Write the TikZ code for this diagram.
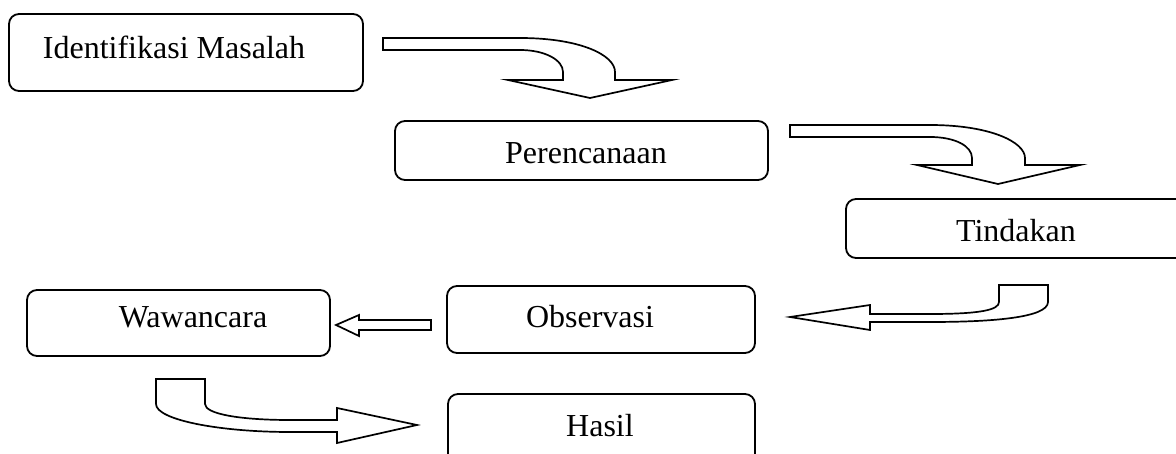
\documentclass[tikz,border=0pt]{standalone}
\usepackage{fontspec}
\setmainfont{Liberation Serif}

\tikzset{
  stage/.style={draw, rounded corners=10pt, line width=1.8pt},
  blockarrow/.style={draw, line width=1.7pt, line join=miter, fill=white}
}

\begin{document}
\begin{tikzpicture}[x=1pt, y=-1pt, font=\fontsize{32}{38}\selectfont]
  \useasboundingbox (0,0) rectangle (1176,454);

  % tahapan
  \node[stage, minimum width=354pt, minimum height=77pt,
    label={[xshift=-12pt, yshift=5.5pt]center:Identifikasi Masalah}]
    (identifikasi) at (186,52.5) {};
  \node[stage, minimum width=373pt, minimum height=59pt,
    label={[xshift=4.5pt, yshift=-3pt]center:Perencanaan}]
    (perencanaan) at (581.5,150.5) {};
  \node[stage, minimum width=344pt, minimum height=59pt,
    label={[xshift=-2pt, yshift=-2.5pt]center:Tindakan}]
    (tindakan) at (1018,228.5) {};
  \node[stage, minimum width=308pt, minimum height=67pt,
    label={[xshift=-11pt, yshift=2.5pt]center:Observasi}]
    (observasi) at (601,319.5) {};
  \node[stage, minimum width=303pt, minimum height=66pt,
    label={[xshift=14.5pt, yshift=5.5pt]center:Wawancara}]
    (wawancara) at (178.5,323) {};
  \node[stage, minimum width=307pt, minimum height=76pt,
    label={[xshift=-1.5pt, yshift=6pt]center:Hasil}]
    (hasil) at (601.5,432) {};

  % panah
  \draw[blockarrow] (383,38) -- (520,38)
    .. controls (580,38) and (615,55) .. (615,72) -- (615,80)
    -- (672,80) -- (590,98) -- (508,80) -- (563,80) -- (563,72)
    .. controls (563,60) and (545,50) .. (520,50) -- (383,50) -- cycle;
  \draw[blockarrow] (790,125) -- (930,125)
    .. controls (990,125) and (1025,142) .. (1025,158) -- (1025,165)
    -- (1080,165) -- (998,184) -- (917,165) -- (972,165) -- (972,158)
    .. controls (972,146) and (955,137) .. (930,137) -- (790,137) -- cycle;
  \draw[blockarrow] (999,285) -- (1048,285) -- (1048,302)
    .. controls (1048,318) and (990,322) .. (930,322) -- (870,322)
    -- (870,330) -- (790,317) -- (870,305) -- (870,314) -- (930,314)
    .. controls (980,314) and (999,310) .. (999,302) -- cycle;
  \draw[blockarrow] (431,320) -- (359,320) -- (359,315) -- (336,325)
    -- (359,336) -- (359,330) -- (431,330) -- cycle;
  \draw[blockarrow] (156,379) -- (205,379) -- (205,404)
    .. controls (205,414) and (240,420) .. (290,420) -- (337,420)
    -- (337,408) -- (417,425) -- (337,443) -- (337,432) -- (290,432)
    .. controls (220,432) and (156,420) .. (156,404) -- cycle;
\end{tikzpicture}
\end{document}
